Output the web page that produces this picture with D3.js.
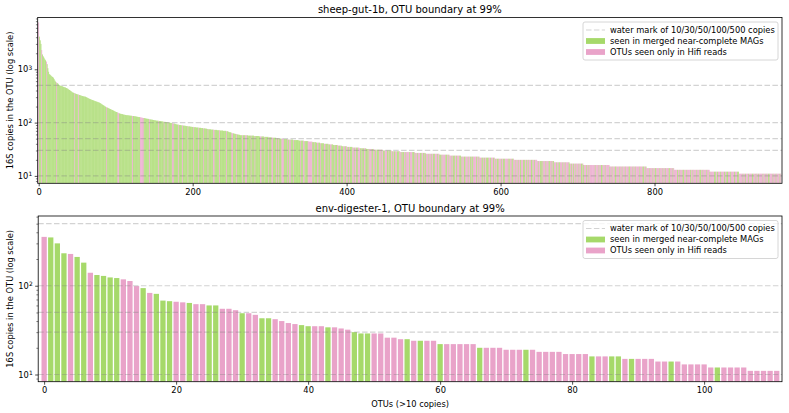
<!DOCTYPE html>
<html>
<head>
<meta charset="utf-8">
<script src="https://cdn.jsdelivr.net/npm/d3@7"></script>
<style>
  body { margin: 0; background: #fff; }
  svg { font-family: "DejaVu Sans", sans-serif; }
</style>
</head>
<body>
<svg id="chart" width="789" height="413"></svg>
<script>
// colours of the two groups
const GREEN = "#a6d96a";
const PINK = "#e9a3c9";

const waterMarks = [10, 30, 50, 100, 500];
const legendLabels = [
  "water mark of 10/30/50/100/500 copies",
  "seen in merged near-complete MAGs",
  "OTUs seen only in Hifi reads"
];

// sheep-gut-1b: first 265 OTUs one by one, the rest as [copies, how many OTUs]
const sheepHeadCopies = [
  7600, 4100, 3500, 3000, 2300, 1900, 1750, 1650, 1550, 1480, 1400, 1250, 1050, 900,
  810, 790, 760, 740, 720, 700, 660, 620, 590, 570, 555, 540, 520, 505,
  495, 490, 485, 480, 470, 465, 460, 455,
  445, 440, 430, 420, 410, 400, 390, 380, 370,
  365, 360, 355, 350, 345, 340, 338, 335, 330,
  326, 322, 318, 315, 312, 310, 308, 306,
  300, 295, 290, 285, 280, 276, 272, 268, 265,
  262, 258, 255, 252, 249, 246, 243, 240, 237,
  232, 227, 222, 217, 212, 208, 203, 199,
  195, 192, 189, 186, 183, 180, 177, 174, 172,
  169, 166, 163, 160, 158, 156, 154, 151, 149,
  147, 146, 145, 144, 142, 141, 140, 139,
  138, 138, 137, 137, 136, 135, 135, 134, 133, 133, 132, 132, 131,
  130, 129, 128, 127, 127, 126, 125, 124, 123, 122, 122, 121, 120,
  119, 118, 118, 117, 116, 115, 114, 114, 113, 112, 111, 111, 110,
  109, 109, 108, 108, 107, 107, 106, 106, 105, 104, 104, 103, 103, 102, 102, 101, 101, 100,
  99, 99, 98, 97, 96, 96, 95, 94, 93, 92, 92, 91, 90,
  90, 89, 89, 89, 88, 88, 87, 87, 86, 86, 85, 85, 85, 84, 84, 83, 83,
  83, 82, 82, 82, 81, 81, 81, 80, 80, 80, 79, 79, 79, 78, 78, 78, 77, 77, 76, 76, 75, 75,
  75, 74, 74, 74, 74, 73, 73, 73, 73, 72, 72, 72, 72, 71, 71, 71, 71, 70, 70, 70, 70,
  69, 69, 68, 67, 66, 66, 65, 64, 63, 63, 62, 62, 61, 61, 60, 60, 59, 59, 58, 58, 58
];
const sheepTailRuns = [
  [58, 7], [57, 8], [56, 7], [55, 6], [54, 6], [53, 5], [52, 5], [51, 4], [50, 5], [49, 6],
  [48, 7], [47, 7], [46, 7], [45, 6], [44, 5], [43, 5], [42, 5], [41, 5], [40, 6], [39, 6],
  [38, 6], [37, 5], [36, 7], [35, 7], [34, 9], [33, 9], [32, 10], [31, 11], [30, 12], [29, 11],
  [28, 19], [27, 14], [26, 18], [25, 13], [24, 15], [23, 24], [22, 20], [21, 25], [20, 30],
  [19, 22], [18, 20], [17, 18], [16, 34], [15, 48], [14, 36], [13, 46], [12, 38], [11, 55]
];
// g = seen in MAGs, p = only in HiFi reads, as runs along the x axis
const sheepColorRuns = [
  ["p",1],["g",3],["p",1],["g",5],["p",1],["g",12],["p",1],["g",23],["p",1],["g",4],["p",1],["g",35],
  ["p",1],["g",14],["p",2],["g",17],["p",1],["g",9],["p",5],["g",7],["p",1],["g",11],["p",1],["g",6],
  ["p",1],["g",4],["p",1],["g",5],["p",2],["g",6],["p",1],["g",4],["p",1],["g",6],["p",1],["g",6],
  ["p",1],["g",6],["p",1],["g",5],["p",1],["g",5],["p",1],["g",6],["p",2],["g",6],["p",1],["g",4],
  ["g",4],["p",1],["g",6],["p",2],["g",4],["p",1],["g",7],["p",1],["g",3],["p",2],["g",5],["p",1],
  ["g",4],["p",1],["g",6],["p",2],["g",3],["p",1],["g",5],["p",1],
  ["g",3],["p",2],["g",4],["p",1],["g",2],["p",1],["g",3],["p",3],["g",4],["p",1],["g",2],["p",2],
  ["g",3],["p",1],["g",8],["p",1],["g",3],["p",2],["g",4],["p",6],["g",2],["p",1],["g",3],["p",2],
  ["g",2],["p",1],["g",4],["p",2],["g",3],["p",1],["g",2],["p",2],["g",3],["p",1],["g",3],["p",2],
  ["g",2],["p",1],["g",3],["p",2],["g",2],
  ["p",2],["g",2],["p",1],["g",3],["p",2],["g",1],["p",2],["g",2],["p",3],["g",2],["p",1],["g",2],
  ["p",2],["g",3],["p",1],["g",1],["p",3],["g",2],["p",2],["g",2],["p",1],["g",3],["p",2],["g",1],
  ["p",2],["g",2],["p",3],["g",2],["p",1],["g",2],["p",2],["g",1],["p",1],["g",2],["p",2],["g",3],
  ["p",2],["g",1],["p",1],["g",2],["p",2],["g",1],["p",2],
  ["p",2],["g",1],["p",3],["g",2],["p",1],["g",1],["p",2],["g",1],["p",3],["g",2],["p",2],["g",1],
  ["p",1],["g",2],["p",3],["g",1],["p",2],["g",1],["p",2],["g",2],
  ["p",3],["g",1],["p",2],["g",2],["p",1],["g",1],["p",4],["g",2],["p",2],["g",1],["p",3],["g",1],
  ["p",1],["g",2],["p",2],["g",1],["p",3],["g",2],["p",1],["g",1],
  ["p",2],["g",2],["p",3],["g",1],["p",2],["g",1],["p",1],["g",2],["p",4],["g",1],["p",2],["g",1],
  ["p",3],["g",2],["p",1],["g",1],["p",2],["g",3],["p",2],["g",1],
  ["p",3],["g",1],["p",2],["g",1],["p",1],["g",2],["p",3],["g",1],["p",2],["g",2],["p",4],["g",1],
  ["p",1],["g",1],["p",2],["g",2],["p",3],["g",1],["p",2],["g",1],
  ["p",2],["g",1],["p",3],["g",2],["p",2],["g",1],["p",1],["g",1],["p",3],["g",2],["p",2],["g",1],
  ["p",4],["g",1],["p",2],["g",2],["p",1],["g",1],["p",3],["g",1],
  ["p",3],["g",2],["p",2],["g",1],["p",1],["g",1],["p",3],["g",1],["p",2],["g",2],["p",3],["g",1],
  ["p",2],["g",1],["p",4],["g",2],["p",1],["g",1],["p",2],["g",1],
  ["p",2],["g",1],["p",3],["g",1],["p",2],["g",2],["p",1],["g",1],["p",3],["g",1],["p",2],["g",1],["p",4],
  ["p",3],["g",1],["p",4],["g",1],["p",2],["g",2],["p",3],["g",1],["p",5],["g",1],["p",2],["g",1],
  ["p",3],["g",2],["p",4],["g",1],["p",2],["g",1],["p",3],["g",1],
  ["p",4],["g",2],["p",3],["g",1],["p",2],["g",1],["p",5],["g",1],["p",3],["g",2],["p",2],["g",1],
  ["p",4],["g",1],["p",3],["g",1],["p",2],["g",2],["p",4],["g",1],
  ["p",3],["g",1],["p",2],["g",1],["p",4],["g",2],["p",3],["g",1],["p",5],["g",1],["p",2],["g",1],
  ["p",3],["g",2],["p",3],["g",1],["p",4],["g",1],["p",2],["g",1],
  ["p",4],["g",1],["p",3],["g",2],["p",2],["g",1],["p",4],["g",1],["p",3],["g",1],["p",5],["g",2],
  ["p",2],["g",1],["p",3],["g",1],["p",4],["g",1],["p",2],["g",2],
  ["p",3],["g",1],["p",4],["g",1],["p",3],["g",2],["p",5],["g",1],["p",2],["g",1],["p",3],["g",1],
  ["p",4],["g",2],["p",3],["g",1],["p",2],["g",1],["p",5],["g",1],
  ["p",3],["g",1],["p",2],["g",2],["p",4],["g",1],["p",3],["g",1],["p",4],["g",1],["p",1]
];
const sheepXTicks = [0, 200, 400, 600, 800];

// env-digester-1: one value per OTU
const digesterCopies = [
  355, 350, 300, 232, 228, 211, 182, 140, 132, 129,
  124, 122, 118, 113, 99, 94, 83, 81, 68, 67,
  66, 65, 64, 62, 62, 60, 60, 55, 55, 53,
  49, 49, 47, 43, 43, 42, 40, 38, 37, 36,
  35, 35, 35, 34, 34, 33, 32, 30, 29, 29,
  29, 29, 26, 26, 25, 25, 24, 24, 24, 24,
  22, 22, 22, 22, 22, 22, 20, 20, 20, 20,
  19, 19, 19, 19, 19, 18, 18, 18, 18, 17,
  17, 17, 17, 16, 16, 16, 16, 16, 15, 15,
  15, 15, 15, 14, 14, 14, 14, 13, 13, 13,
  13, 12, 12, 12, 12, 12, 12, 11, 11, 11,
  11, 11
];
const digesterColors = (
  "pgggpggpgg" + "ggpppgpggg" + "ppgppggppp" + "gppggppppg" + "gppgpppggg" +
  "pppppgpgpp" + "gpppppgppp" + "pppgpppppp" + "pppgppggpg" + "pppppgpppp" +
  "ppgppppppp" + "pp"
).split("");
const digesterXTicks = [0, 20, 40, 60, 80, 100];

function expandRuns(runs) {
  const out = [];
  runs.forEach(([v, n]) => { for (let k = 0; k < n; k++) out.push(v); });
  return out;
}

const sheepCopies = sheepHeadCopies.concat(expandRuns(sheepTailRuns));
const sheepColors = expandRuns(sheepColorRuns);

const svg = d3.select("#chart");

function drawPanel(o) {
  const g = svg.append("g");
  const x = d3.scaleLinear().domain(o.xDomain).range([o.left, o.right]);
  const y = d3.scaleLog().domain(o.yDomain).range([o.bottom, o.top]);
  const half = o.barWidth / 2;

  const rows = o.copies.map((v, i) => ({ i, v, c: o.colors[i] || "p" }));

  g.append("clipPath").attr("id", o.id)
    .append("rect")
    .attr("x", o.left).attr("y", o.top)
    .attr("width", o.right - o.left).attr("height", o.bottom - o.top);

  // bars
  g.append("g").attr("clip-path", `url(#${o.id})`)
    .selectAll("rect").data(rows).join("rect")
    .attr("x", d => x(d.i - half))
    .attr("width", d => x(d.i + half) - x(d.i - half))
    .attr("y", d => y(d.v))
    .attr("height", d => o.bottom - y(d.v))
    .attr("fill", d => d.c === "g" ? GREEN : PINK);

  // water marks
  g.append("g").selectAll("line").data(waterMarks.filter(v => v > o.yDomain[0] && v < o.yDomain[1]))
    .join("line")
    .attr("x1", o.left).attr("x2", o.right)
    .attr("y1", d => y(d)).attr("y2", d => y(d))
    .attr("stroke", "#808080").attr("stroke-opacity", 0.35)
    .attr("stroke-width", 1.2).attr("stroke-dasharray", "5.5,2.4");

  // x axis
  const xAxis = d3.axisBottom(x).tickValues(o.xTicks).tickSize(3).tickPadding(2.5).tickSizeOuter(0);
  const gx = g.append("g").attr("transform", `translate(0,${o.bottom})`).call(xAxis);
  gx.select(".domain").remove();
  gx.selectAll("text").attr("font-size", 8.3).attr("fill", "#000").attr("font-family", "DejaVu Sans");
  gx.selectAll("line").attr("stroke", "#000").attr("stroke-width", 0.7);

  // y axis: majors with 10^k labels, minors between
  const lo = Math.floor(Math.log10(o.yDomain[0])), hi = Math.ceil(Math.log10(o.yDomain[1]));
  const majors = [], minors = [];
  for (let k = lo; k <= hi; k++) {
    const base = Math.pow(10, k);
    if (base >= o.yDomain[0] && base <= o.yDomain[1]) majors.push(base);
    for (let m = 2; m <= 9; m++) {
      const t = m * base;
      if (t >= o.yDomain[0] && t <= o.yDomain[1]) minors.push(t);
    }
  }
  const gyMinor = g.append("g").attr("transform", `translate(${o.left},0)`)
    .call(d3.axisLeft(y).tickValues(minors).tickSize(1.8).tickFormat("").tickSizeOuter(0));
  gyMinor.select(".domain").remove();
  gyMinor.selectAll("line").attr("stroke", "#000").attr("stroke-width", 0.5);

  const gy = g.append("g").attr("transform", `translate(${o.left},0)`)
    .call(d3.axisLeft(y).tickValues(majors).tickSize(3).tickPadding(2.5)
      .tickFormat(() => "10").tickSizeOuter(0));
  gy.select(".domain").remove();
  gy.selectAll("line").attr("stroke", "#000").attr("stroke-width", 0.7);
  gy.selectAll("text")
    .attr("font-size", 8.3).attr("fill", "#000").attr("font-family", "DejaVu Sans")
    .each(function (d) {
      d3.select(this).append("tspan")
        .attr("dy", "-0.45em").attr("font-size", "0.72em")
        .text(Math.round(Math.log10(d)));
    });

  // frame
  g.append("rect")
    .attr("x", o.left).attr("y", o.top)
    .attr("width", o.right - o.left).attr("height", o.bottom - o.top)
    .attr("fill", "none").attr("stroke", "#000").attr("stroke-width", 0.8);

  // title and labels
  g.append("text")
    .attr("x", (o.left + o.right) / 2).attr("y", o.top - 4.5)
    .attr("text-anchor", "middle").attr("font-size", 10).attr("fill", "#000")
    .text(o.title);

  g.append("text")
    .attr("transform", `translate(13,${(o.top + o.bottom) / 2}) rotate(-90)`)
    .attr("text-anchor", "middle").attr("font-size", 8.3).attr("fill", "#000")
    .text("16S copies in the OTU (log scale)");

  if (o.xLabel) {
    g.append("text")
      .attr("x", (o.left + o.right) / 2).attr("y", o.bottom + 25)
      .attr("text-anchor", "middle").attr("font-size", 8.3).attr("fill", "#000")
      .text(o.xLabel);
  }

  // legend
  const lg = g.append("g").attr("transform", `translate(583,${o.top + 4.5})`);
  lg.append("rect")
    .attr("width", 195).attr("height", 38).attr("rx", 2)
    .attr("fill", "#fff").attr("fill-opacity", 0.8)
    .attr("stroke", "#ccc").attr("stroke-width", 0.8);
  legendLabels.forEach((label, k) => {
    const cy = 8 + k * 11;
    if (k === 0) {
      lg.append("line")
        .attr("x1", 3).attr("x2", 22).attr("y1", cy).attr("y2", cy)
        .attr("stroke", "#808080").attr("stroke-opacity", 0.35)
        .attr("stroke-width", 1.2).attr("stroke-dasharray", "5.5,2.4");
    } else {
      lg.append("rect")
        .attr("x", 3).attr("y", cy - 2.9).attr("width", 19).attr("height", 5.8)
        .attr("fill", k === 1 ? GREEN : PINK);
    }
    lg.append("text")
      .attr("x", 27).attr("y", cy).attr("dy", "0.35em")
      .attr("font-size", 8.3).attr("fill", "#000")
      .text(label);
  });
}

drawPanel({
  id: "clipTop",
  title: "sheep-gut-1b, OTU boundary at 99%",
  copies: sheepCopies, colors: sheepColors, xTicks: sheepXTicks,
  xDomain: [-1.3, 965.6], yDomain: [7.26, 9380], barWidth: 0.95,
  left: 37.7, right: 782, top: 17.5, bottom: 183.3
});

drawPanel({
  id: "clipBottom",
  title: "env-digester-1, OTU boundary at 99%",
  copies: digesterCopies, colors: digesterColors, xTicks: digesterXTicks,
  xDomain: [-0.9, 111.8], yDomain: [8.3, 610], barWidth: 0.8,
  left: 38.2, right: 782, top: 216, bottom: 381.7,
  xLabel: "OTUs (>10 copies)"
});
</script>
</body>
</html>
